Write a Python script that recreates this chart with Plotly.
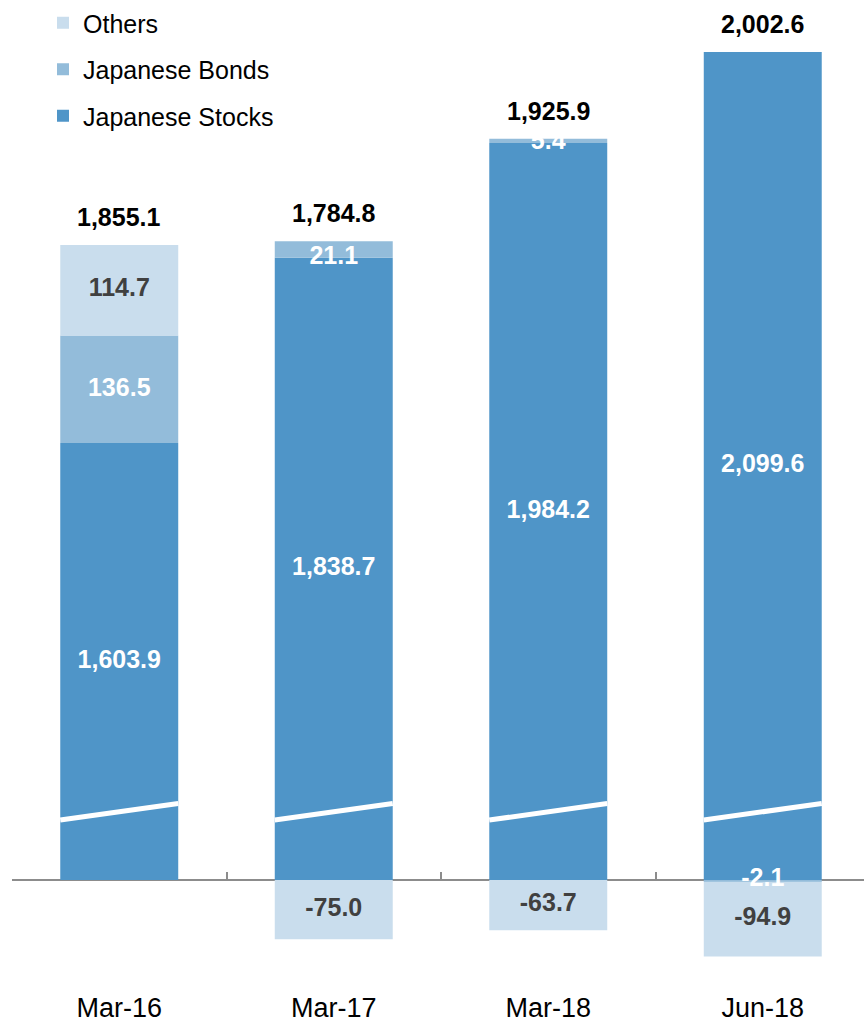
import plotly.graph_objects as go

# ---- data ----
categories = ["Mar-16", "Mar-17", "Mar-18", "Jun-18"]
stocks = [1603.9, 1838.7, 1984.2, 2099.6]
bonds = [136.5, 21.1, 5.4, -2.1]
others = [114.7, -75.0, -63.7, -94.9]
totals = [1855.1, 1784.8, 1925.9, 2002.6]

# broken-axis settings (Japanese Stocks bars are drawn with an axis break)
BREAK = 1050.0
BREAK_LO, BREAK_HI = 76.0, 97.0

C_STOCKS = "#4F95C8"
C_BONDS = "#93BCDA"
C_OTHERS = "#C9DDED"
C_DARK = "#404040"
FONT = "Arial, Liberation Sans, sans-serif"

fmt = lambda v: f"{v:,.1f}"

stocks_disp = [s - BREAK for s in stocks]

W, H = 864, 1022
M_L, M_R, M_T, M_B = 12, 0, 0, 40
SCALE = 0.7888  # px per unit
zero_px = 880
plot_h = H - M_T - M_B
YMAX = (zero_px - M_T) / SCALE
YMIN = -(plot_h - (zero_px - M_T)) / SCALE
LABEL_PX = 24  # segments thinner than this get their label at the segment base

# stacked label positions (relative stacking: positives up, negatives down)
series = [("Japanese Stocks", stocks_disp, stocks, C_STOCKS, "white", 3),
          ("Japanese Bonds", bonds, bonds, C_BONDS, "white", 2),
          ("Others", others, others, C_OTHERS, C_DARK, 1)]
pos_base = [0.0] * len(categories)
neg_base = [0.0] * len(categories)
label_y = []
for _, vals, _, _, _, _ in series:
    ys = []
    for i, v in enumerate(vals):
        if v >= 0:
            base = pos_base[i]
            pos_base[i] += v
        else:
            base = neg_base[i]
            neg_base[i] += v
        ys.append(base if abs(v) * SCALE < LABEL_PX else base + v / 2)
    label_y.append(ys)
pos_top = pos_base

fig = go.Figure()
for name, vals, _, color, _, rank in series:
    fig.add_trace(go.Bar(
        x=categories, y=vals, name=name, legendgroup=name, legendrank=rank,
        marker=dict(color=color, line=dict(width=0)), hoverinfo="skip",
    ))
for (name, _, raw, _, tcolor, _), ys in zip(series, label_y):
    fig.add_trace(go.Scatter(
        x=categories, y=ys, mode="text", text=[fmt(v) for v in raw],
        textposition="middle center", showlegend=False, cliponaxis=False,
        textfont=dict(family=FONT, size=25, color=tcolor, weight="bold"),
        hoverinfo="skip",
    ))

for c, top, tot in zip(categories, pos_top, totals):
    fig.add_annotation(x=c, y=top, text=fmt(tot), showarrow=False,
                       yanchor="middle", yshift=28,
                       font=dict(family=FONT, size=25, color="black", weight="bold"))

# axis-break marks
half = 0.275
for i, _ in enumerate(categories):
    fig.add_shape(type="line", xref="x", yref="y",
                  x0=i - half, x1=i + half, y0=BREAK_LO, y1=BREAK_HI,
                  line=dict(color="white", width=5))

fig.update_layout(
    width=W, height=H,
    margin=dict(l=M_L, r=M_R, t=M_T, b=M_B, autoexpand=False),
    paper_bgcolor="white", plot_bgcolor="white",
    barmode="relative", bargap=0.45,
    font=dict(family=FONT, color="black"),
    legend=dict(
        xref="container", yref="container", x=43 / W, y=1.007,
        xanchor="left", yanchor="top",
        traceorder="grouped", tracegroupgap=11,
        font=dict(family=FONT, size=25, color="black"),
        bgcolor="rgba(0,0,0,0)",
    ),
    xaxis=dict(
        type="category", range=[-0.5, 3.472],
        anchor="free", position=(-YMIN) / (YMAX - YMIN),
        showline=True, linecolor="#8c8c8c", linewidth=1.5,
        ticks="inside", ticklen=7, tickwidth=1.5, tickcolor="#8c8c8c",
        tickson="boundaries", showgrid=False, layer="below traces",
        tickfont=dict(family=FONT, size=27, color="black"),
        ticklabelstandoff=104,
    ),
    yaxis=dict(range=[YMIN, YMAX], visible=False, showgrid=False, zeroline=False),
)

fig.write_html("out.html")
